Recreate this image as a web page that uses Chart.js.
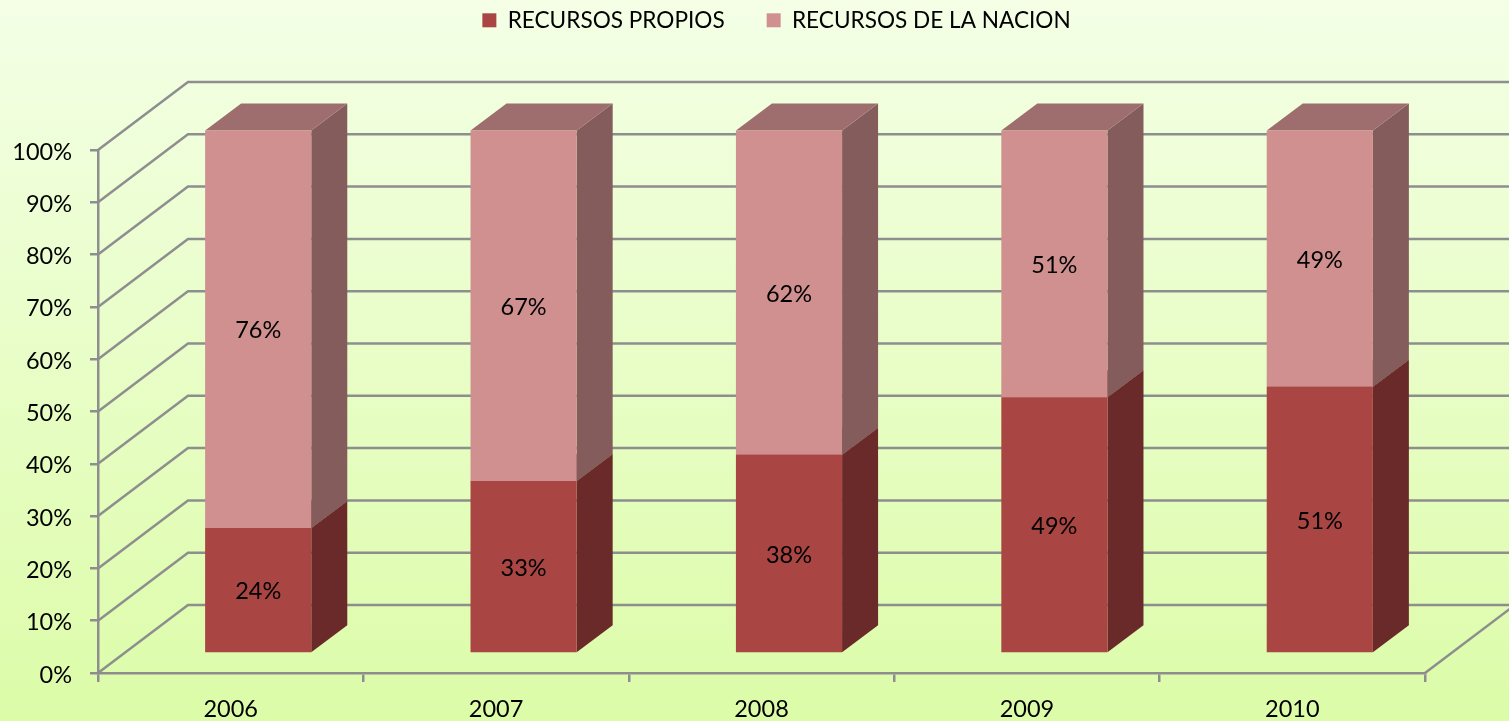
<!DOCTYPE html>
<html>
<head>
<meta charset="utf-8">
<title>Recursos</title>
<script src="https://cdn.jsdelivr.net/npm/chart.js@4/dist/chart.umd.min.js"></script>
<style>
html, body { margin: 0; padding: 0; overflow: hidden; }
body { width: 1509px; height: 721px; background: linear-gradient(#f4ffe6, #dcfca8); }
canvas { display: block; }
</style>
</head>
<body>
<canvas id="myChart" width="1509" height="721"></canvas>
<script>
var years = ["2006", "2007", "2008", "2009", "2010"];
var recursosPropios = [24, 33, 38, 49, 51];
var recursosNacion = [76, 67, 62, 51, 49];

var fontName = "Lato, Carlito, sans-serif";
var gridColor = "#8e8e8e";

// fake 3D: wall depth, bar position inside the floor, bar depth
var wall = { x: 90, y: -68 };
var barShift = { x: 27.5, y: -19.5 };
var barDepth = { x: 36, y: -27 };

var faces = [
    { front: "#a94543", side: "#6b2a2a", top: "#7f3a3a" },
    { front: "#d09090", side: "#845c5c", top: "#9e6e6e" }
];

function face(ctx, pts, color) {
    ctx.fillStyle = color;
    ctx.beginPath();
    ctx.moveTo(pts[0][0], pts[0][1]);
    for (var i = 1; i < pts.length; i++) {
        ctx.lineTo(pts[i][0], pts[i][1]);
    }
    ctx.closePath();
    ctx.fill();
}

var box3d = {
    id: "box3d",
    beforeInit: function (chart) {
        // legend sits high up, the plot starts well below it
        var legend = chart.legend;
        var fit = legend.fit;
        legend.fit = function () {
            fit.call(this);
            this.height = 150;
        };
        var draw = legend.draw;
        legend.draw = function () {
            chart.ctx.save();
            chart.ctx.translate(64, -33);
            draw.call(this);
            chart.ctx.restore();
        };
    },
    beforeDatasetsDraw: function (chart) {
        var ctx = chart.ctx;
        var x = chart.scales.x;
        var y = chart.scales.y;

        // walls and floor
        ctx.save();
        ctx.strokeStyle = gridColor;
        ctx.lineWidth = 2.5;
        y.ticks.forEach(function (t) {
            var py = y.getPixelForValue(t.value);
            ctx.beginPath();
            ctx.moveTo(x.left, py);
            ctx.lineTo(x.left + wall.x, py + wall.y);
            ctx.lineTo(x.right + wall.x, py + wall.y);
            ctx.stroke();
        });
        ctx.beginPath();
        ctx.moveTo(x.right, y.bottom);
        ctx.lineTo(x.right + wall.x, y.bottom + wall.y);
        ctx.stroke();
        ctx.restore();

        // everything until afterDatasetsDraw is moved back on the floor
        ctx.save();
        ctx.translate(barShift.x, barShift.y);
        chart.data.datasets.forEach(function (ds, d) {
            chart.getDatasetMeta(d).data.forEach(function (bar) {
                var p = bar.getProps(["x", "y", "base", "width"], true);
                var r = p.x + p.width / 2;
                var l = p.x - p.width / 2;
                face(ctx, [[r, p.base], [r + barDepth.x, p.base + barDepth.y],
                    [r + barDepth.x, p.y + barDepth.y], [r, p.y]], faces[d].side);
                face(ctx, [[l, p.y], [l + barDepth.x, p.y + barDepth.y],
                    [r + barDepth.x, p.y + barDepth.y], [r, p.y]], faces[d].top);
            });
        });
    },
    afterDatasetsDraw: function (chart) {
        var ctx = chart.ctx;
        ctx.fillStyle = "#000";
        ctx.font = "23.5px " + fontName;
        ctx.textAlign = "center";
        ctx.textBaseline = "middle";
        chart.data.datasets.forEach(function (ds, d) {
            chart.getDatasetMeta(d).data.forEach(function (bar, i) {
                var p = bar.getProps(["x", "y", "base"], true);
                ctx.fillText(ds.data[i] + "%", p.x, (p.y + p.base) / 2 + 1.5);
            });
        });
        ctx.restore();
    }
};

var ctxB = document.getElementById("myChart").getContext("2d");
var myBarChart = new Chart(ctxB, {
    type: "bar",
    data: {
        labels: years,
        datasets: [
            { label: "RECURSOS PROPIOS", data: recursosPropios, backgroundColor: faces[0].front },
            { label: "RECURSOS DE LA NACION", data: recursosNacion, backgroundColor: faces[1].front }
        ]
    },
    options: {
        responsive: false,
        animation: false,
        layout: { padding: { top: 0, right: 84, bottom: 0, left: 0 } },
        datasets: { bar: { categoryPercentage: 1, barPercentage: 0.4, clip: false } },
        plugins: {
            tooltip: { enabled: false },
            legend: {
                position: "top",
                labels: {
                    boxWidth: 14,
                    boxHeight: 14,
                    padding: 42,
                    color: "#000",
                    font: { family: fontName, size: 22.6 }
                }
            }
        },
        scales: {
            x: {
                stacked: true,
                border: { color: gridColor, width: 2.5 },
                grid: { color: gridColor, lineWidth: 2.5, drawOnChartArea: false, tickLength: 9 },
                ticks: { color: "#000", padding: 13, font: { family: fontName, size: 23.5 } },
                afterFit: function (scale) { scale.height = 48; }
            },
            y: {
                stacked: true,
                min: 0,
                max: 100,
                border: { color: gridColor, width: 2.5 },
                grid: { color: gridColor, lineWidth: 2.5, drawOnChartArea: false, tickLength: 8 },
                ticks: {
                    stepSize: 10,
                    color: "#000",
                    padding: 18,
                    labelOffset: 2,
                    font: { family: fontName, size: 23.5 },
                    callback: function (v) { return v + "%"; }
                },
                afterFit: function (scale) { scale.width = 98; }
            }
        }
    },
    plugins: [box3d]
});
</script>
</body>
</html>
